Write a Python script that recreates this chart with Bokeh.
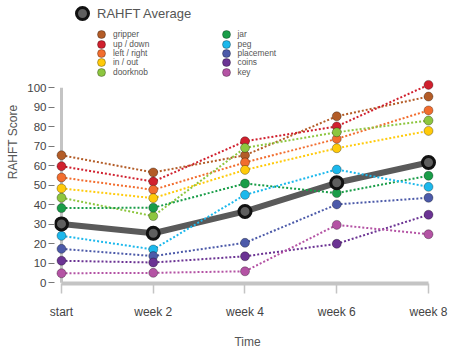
from bokeh.plotting import figure
from bokeh.models import Legend, LegendItem, FixedTicker, Range1d
from bokeh.embed import file_html
from bokeh.resources import INLINE

categories = ["start", "week 2", "week 4", "week 6", "week 8"]
y_ticks = [0, 10, 20, 30, 40, 50, 60, 70, 80, 90, 100]

gripper    = [65.4, 56.6, 65.4, 85.4, 95.5]
up_down    = [59.8, 51.9, 72.6, 80.2, 101.5]
left_right = [54.0, 47.7, 61.7, 73.8, 88.4]
in_out     = [48.4, 43.4, 57.9, 69.0, 77.9]
doorknob   = [43.6, 34.2, 69.2, 77.2, 83.2]
jar        = [38.3, 38.5, 50.9, 46.0, 54.9]
peg        = [24.1, 17.1, 45.1, 58.1, 49.2]
placement  = [17.4, 13.7, 20.5, 40.2, 43.6]
coins      = [11.3, 10.4, 13.6, 20.0, 34.9]
key        = [4.9, 5.1, 5.9, 29.7, 24.9]
average    = [30.2, 25.4, 36.6, 51.3, 61.7]

series_names = ["gripper", "up / down", "left / right", "in / out", "doorknob",
                "jar", "peg", "placement", "coins", "key"]
series_values = [gripper, up_down, left_right, in_out, doorknob,
                 jar, peg, placement, coins, key]
series_colors = ["#b35c27", "#d0202e", "#f26d2e", "#ffca0a", "#8dc63f",
                 "#199d48", "#1cb8ec", "#4c5aa9", "#6b3393", "#b453a4"]

FONT = "Liberation Sans"
xs = list(range(len(categories)))

# frame geometry (pixels)
L, R, T, B = 54, 440, 0, 283
W, H = 451, 356

p = figure(width=W, height=H,
           x_range=Range1d(-0.0763, 4.1308), y_range=Range1d(-0.36, 144.77),
           output_backend="svg", toolbar_location=None,
           min_border_left=L, min_border_right=W - R,
           min_border_top=T, min_border_bottom=H - B)
p.outline_line_color = None
p.xgrid.visible = False
p.ygrid.visible = False
p.background_fill_color = "white"
p.border_fill_color = "white"

# y-axis rule drawn at x = first category
p.segment(x0=[xs[0]], y0=[y_ticks[0]], x1=[xs[0]], y1=[y_ticks[-1]],
          line_color="#c4c4c4", line_width=3)

# average line beneath
p.line(xs, average, line_color="#5a5a5a", line_width=6)

# dotted series lines
for vals, col in zip(series_values, series_colors):
    p.line(xs, vals, line_color=col, line_width=2, line_dash="2 2")

# series markers
marker_renderers = []
for vals, col in zip(series_values, series_colors):
    r = p.scatter(xs, vals, size=9, fill_color=col, line_color="#000000",
                  line_alpha=0.3, line_width=1)
    marker_renderers.append(r)

avg_r = p.scatter(xs, average, size=12, fill_color="#5f5f5f",
                  line_color="#111111", line_width=3)

# x axis
xa = p.xaxis[0]
xa.ticker = FixedTicker(ticks=xs)
xa.major_label_overrides = {i: c for i, c in enumerate(categories)}
xa.bounds = (0, 4)
xa.axis_line_color = "#c4c4c4"
xa.axis_line_width = 4
xa.major_tick_line_color = "#c4c4c4"
xa.major_tick_line_width = 1.5
xa.major_tick_in = 0
xa.major_tick_out = 10
xa.minor_tick_line_color = None
xa.major_label_standoff = 11
xa.major_label_text_font = FONT
xa.major_label_text_font_size = "12px"
xa.major_label_text_color = "#444444"
xa.axis_label = "Time"
xa.axis_label_text_font = FONT
xa.axis_label_text_font_size = "12px"
xa.axis_label_text_font_style = "normal"
xa.axis_label_text_color = "#555555"
xa.axis_label_standoff = 13

# y axis
ya = p.yaxis[0]
ya.ticker = FixedTicker(ticks=y_ticks)
ya.bounds = (0, 100)
ya.axis_line_color = None
ya.major_tick_line_color = "#777777"
ya.major_tick_line_width = 1
ya.major_tick_in = 0
ya.major_tick_out = 6
ya.minor_tick_line_color = None
ya.major_label_standoff = 2
ya.major_label_text_font = FONT
ya.major_label_text_font_size = "11.5px"
ya.major_label_text_color = "#444444"
ya.axis_label = "RAHFT Score"
ya.axis_label_text_font = FONT
ya.axis_label_text_font_size = "12px"
ya.axis_label_text_font_style = "normal"
ya.axis_label_text_color = "#555555"
ya.axis_label_standoff = 4


def item_legend(label, renderer, cx, cy, box, fs, standoff):
    """Single-item legend whose glyph is centred on pixel (cx, cy)."""
    return Legend(items=[LegendItem(label=label, renderers=[renderer])],
                  location=(cx - box / 2 - L, B - (cy + box / 2)),
                  orientation="vertical",
                  glyph_width=box, glyph_height=box, label_height=box,
                  spacing=0, padding=0, margin=0,
                  label_standoff=standoff, label_text_font=FONT,
                  label_text_font_size=fs, label_text_color="#555555",
                  border_line_color=None, background_fill_alpha=0)


p.add_layout(item_legend("RAHFT Average", avg_r, 82, 13.3, 30, "13px", 0), "center")

col_x = [101, 225.5]
row_y0, row_dy = 34.3, 9.35
for k, (name, r) in enumerate(zip(series_names, marker_renderers)):
    col, row = divmod(k, 5)
    p.add_layout(item_legend(name, r, col_x[col], row_y0 + row * row_dy,
                             20, "8.4px", 2), "center")

open("out.html", "w").write(file_html(p, INLINE))
